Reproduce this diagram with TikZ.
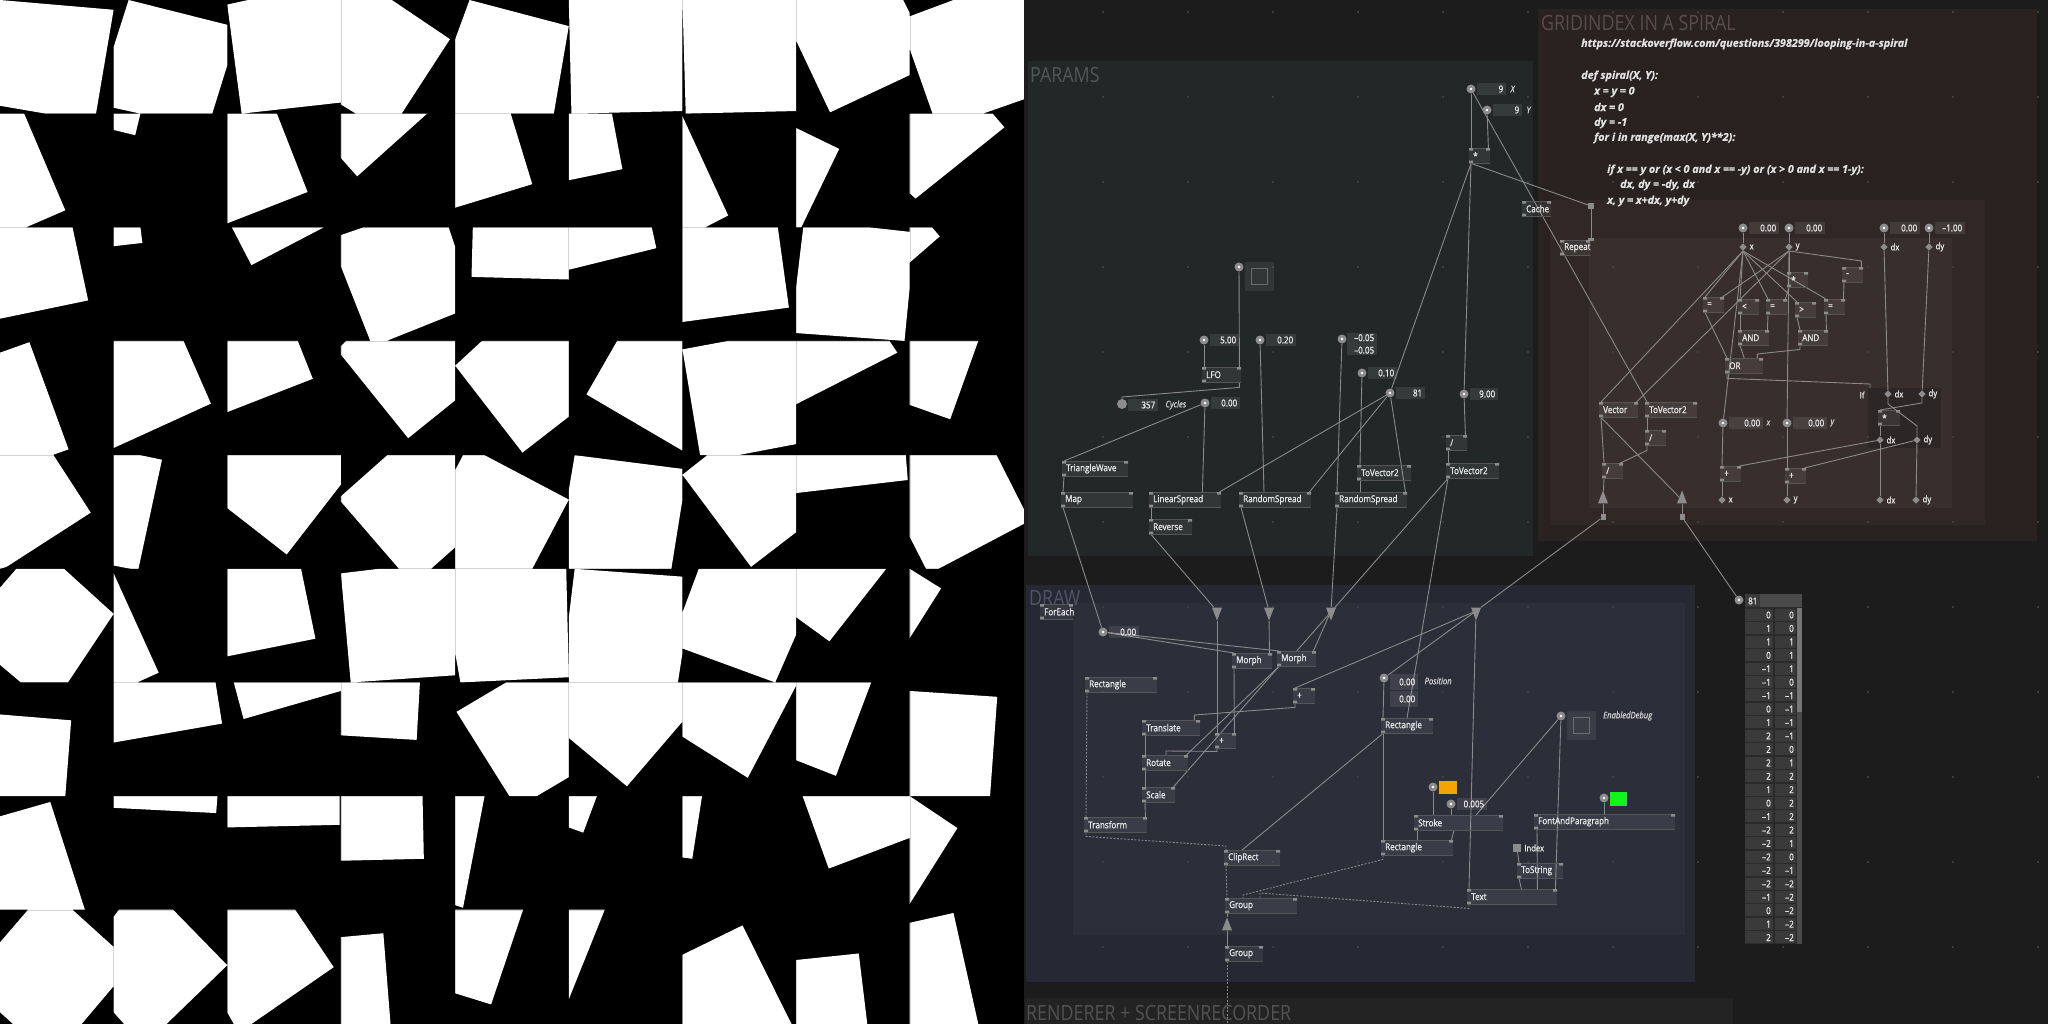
\documentclass[tikz,border=0pt]{standalone}
\usepackage{fontspec}
\setmainfont{Open Sans}
\newfontfamily\vfont[FakeStretch=0.85, FakeBold=1.2]{Open Sans}
\newfontfamily\tfont[FakeStretch=0.85]{Open Sans}
\newfontfamily\cfont[FakeBold=0.6]{Open Sans}
\usetikzlibrary{positioning,shapes.geometric}

\definecolor{bgdark}{HTML}{1C1C1C}
\definecolor{paramsbg}{HTML}{222827}
\definecolor{gridbg}{HTML}{2A2121}
\definecolor{gridinA}{HTML}{312727}
\definecolor{gridinB}{HTML}{382E2E}
\definecolor{ifbg}{HTML}{2D2626}
\definecolor{drawbg}{HTML}{262833}
\definecolor{drawin}{HTML}{2C2E3A}
\definecolor{renderbg}{HTML}{232323}
\definecolor{wiregray}{HTML}{8A8A8A}
\definecolor{pingray}{HTML}{8C8C8C}
\definecolor{pinbar}{HTML}{565656}
\definecolor{textlight}{HTML}{E6E6E6}
\definecolor{textsoft}{HTML}{CFCFCF}
\definecolor{codewhite}{HTML}{E2E2E2}
\definecolor{dotgray}{HTML}{3E3E3E}
\definecolor{togglegray}{HTML}{6E6E6E}
\definecolor{ptitle}{HTML}{4F5856}
\definecolor{gtitle}{HTML}{5A4C4C}
\definecolor{dtitle}{HTML}{505463}
\definecolor{rtitle}{HTML}{525252}
\definecolor{tblcell}{HTML}{3A3A3A}
\definecolor{tblhead}{HTML}{4A4A4A}
\definecolor{tblback}{HTML}{2A2A2A}
\definecolor{thumbgray}{HTML}{777777}
\definecolor{orangesw}{HTML}{F5A300}
\definecolor{greensw}{HTML}{11F51F}
\definecolor{seamgray}{HTML}{D4D4D4}

\pgfdeclarelayer{back}
\pgfdeclarelayer{links}
\pgfsetlayers{back,links,main}

\tikzset{
  wire/.style={draw=wiregray, line width=0.9pt},
  layerwire/.style={wire, dash pattern=on 2pt off 1.5pt},
  vnode/.style={rectangle, anchor=north west, fill=white, fill opacity=0.07,
    text opacity=1, inner xsep=4pt, inner ysep=0pt, minimum height=15pt,
    align=left, text=textlight, font=\vfont\fontsize{9.5}{11}\selectfont,
    path picture={
      \draw[pinbar, line width=1.2pt, opacity=1]
        (path picture bounding box.north west) -- (path picture bounding box.north east)
        (path picture bounding box.south west) -- (path picture bounding box.south east);
      \fill[pingray, opacity=1]
        (path picture bounding box.north west) rectangle ++(4pt,-2.5pt)
        (path picture bounding box.north east) rectangle ++(-4pt,-2.5pt)
        (path picture bounding box.south west) rectangle ++(4pt,2.5pt);}},
  iobox/.style={rectangle, anchor=west, fill=white, fill opacity=0.09,
    text opacity=1, inner xsep=3pt, inner ysep=0pt, minimum height=12.5pt,
    align=right, text=textlight, font=\vfont\fontsize{9.5}{12.5}\selectfont},
  iopin/.style={circle, fill=pingray, minimum size=9pt, inner sep=0pt,
    path picture={\fill[white] (path picture bounding box.center) circle (1.4pt);}},
  loopin/.style={diamond, fill=pingray, minimum size=7.5pt, inner sep=0pt},
  plabel/.style={inner sep=1pt, text=textlight, font=\vfont\fontsize{9}{10}\selectfont},
  ilabel/.style={inner sep=1pt, text=textsoft, font=\vfont\itshape\fontsize{9}{10}\selectfont},
  spreadin/.style={isosceles triangle, isosceles triangle stretches,
    shape border rotate=-90, minimum width=10pt, minimum height=13pt,
    inner sep=0pt, fill=pingray},
  spreadout/.style={spreadin, shape border rotate=90},
  pinsq/.style={rectangle, fill=pingray, minimum width=5pt, minimum height=6pt, inner sep=0pt},
  togglebox/.style={rectangle, anchor=north west, fill=white, fill opacity=0.07,
    minimum size=29pt, inner sep=0pt,
    path picture={\draw[togglegray, line width=1.3pt, opacity=1]
      ([shift={(-8pt,-8pt)}]path picture bounding box.center) rectangle
      ([shift={(8pt,8pt)}]path picture bounding box.center);}},
  swatch/.style={rectangle, anchor=north west, minimum width=18pt, minimum height=13pt, inner sep=0pt},
  regiontitle/.style={anchor=west, inner sep=0pt, font=\tfont\fontsize{21}{23}\selectfont},
  codeline/.style={anchor=west, inner sep=0pt, text=codewhite,
    font=\cfont\bfseries\itshape\fontsize{10.8}{12}\selectfont},
  tbltext/.style={inner sep=0pt, text=textlight, font=\vfont\fontsize{9.5}{10}\selectfont},
}

\begin{document}
\begin{tikzpicture}[x=1pt, y=-1pt]
\useasboundingbox (0,0) rectangle (2048,1024);

\begin{pgfonlayer}{back}
  % rendered output: 9x9 clipped quads
  \fill[black] (0,0) rectangle (1024,1024);
  \begin{scope}[x=0.653061pt, y=-0.653061pt]
    \fill[white]
      (0,0)--(174,15)--(147,174)--(70,174)--(0,162)--cycle
      (197,0)--(348,38)--(348,100)--(325,174)--(215,174)--(174,165)--(174,72)--cycle
      (348,7)--(380,0)--(522,0)--(522,157)--(370,174)--cycle
      (522,0)--(600,0)--(689,60)--(615,174)--(545,174)--(522,160)--cycle
      (719,0)--(871,40)--(848,174)--(697,174)--(697,60)--cycle
      (871,0)--(1045,0)--(1045,170)--(875,174)--cycle
      (1045,0)--(1219,0)--(1219,170)--(1050,174)--cycle
      (1219,0)--(1383,0)--(1393,20)--(1393,115)--(1271,172)--(1219,62)--cycle
      (1393,25)--(1460,0)--(1568,0)--(1568,152)--(1505,174)--(1428,174)--(1393,75)--cycle
      % row 2
      (0,174)--(37,174)--(100,322)--(40,348)--(0,348)--cycle
      (174,174)--(215,174)--(207,207)--(174,199)--cycle
      (348,174)--(424,174)--(471,294)--(348,342)--cycle
      (522,174)--(654,174)--(547,270)--(522,242)--cycle
      (697,174)--(782,174)--(815,282)--(697,318)--cycle
      (871,174)--(937,174)--(953,259)--(871,276)--cycle
      (1045,178)--(1115,330)--(1080,348)--(1045,348)--cycle
      (1219,196)--(1285,228)--(1227,348)--(1219,348)--cycle
      (1393,174)--(1520,174)--(1538,195)--(1402,304)--(1393,296)--cycle
      % row 3
      (0,348)--(111,348)--(135,460)--(0,488)--cycle
      (174,348)--(215,348)--(218,372)--(174,377)--cycle
      (355,348)--(496,348)--(385,406)--cycle
      (522,360)--(557,348)--(687,348)--(697,378)--(697,480)--(592,522)--(567,522)--(522,408)--cycle
      (724,348)--(871,348)--(871,428)--(722,424)--cycle
      (871,348)--(998,348)--(1005,380)--(871,413)--cycle
      (1045,348)--(1191,348)--(1208,471)--(1045,493)--cycle
      (1230,348)--(1330,348)--(1393,355)--(1393,440)--(1385,522)--(1219,510)--(1219,440)--cycle
      (1393,348)--(1427,348)--(1439,362)--(1393,402)--cycle
      % row 4
      (0,540)--(45,524)--(105,688)--(80,697)--(0,697)--cycle
      (174,522)--(281,522)--(323,618)--(174,686)--cycle
      (348,522)--(456,522)--(479,580)--(348,631)--cycle
      (530,522)--(697,522)--(697,613)--(625,671)--(522,543)--(522,530)--cycle
      (738,522)--(871,522)--(871,638)--(800,693)--(697,560)--cycle
      (945,522)--(1045,522)--(1045,690)--(898,604)--cycle
      (1045,535)--(1115,522)--(1219,522)--(1219,680)--(1130,697)--(1072,697)--cycle
      (1219,522)--(1362,522)--(1374,540)--(1219,619)--cycle
      (1393,522)--(1498,522)--(1455,642)--(1393,620)--cycle
      % row 5
      (0,697)--(82,697)--(139,785)--(10,868)--(0,871)--cycle
      (174,697)--(215,697)--(248,704)--(212,871)--(200,871)--(174,866)--cycle
      (348,697)--(522,697)--(522,742)--(439,849)--(348,778)--cycle
      (522,760)--(593,697)--(697,697)--(697,838)--(660,871)--(611,871)--(522,768)--cycle
      (709,697)--(742,697)--(871,765)--(815,871)--(697,871)--(697,720)--cycle
      (880,697)--(1045,718)--(1045,765)--(1028,871)--(871,871)--(871,750)--cycle
      (1045,727)--(1083,697)--(1219,697)--(1219,815)--(1150,868)--cycle
      (1219,697)--(1387,697)--(1390,735)--(1219,755)--cycle
      (1393,697)--(1526,697)--(1568,780)--(1568,802)--(1437,871)--(1418,871)--(1393,822)--cycle
      % row 6
      (25,871)--(98,871)--(174,940)--(104,1045)--(32,1045)--(0,1018)--(0,900)--cycle
      (174,878)--(243,1030)--(210,1045)--(174,1045)--cycle
      (348,871)--(461,871)--(483,978)--(348,1005)--cycle
      (522,878)--(580,871)--(697,871)--(697,1034)--(537,1045)--cycle
      (697,871)--(867,871)--(871,1037)--(705,1045)--(697,1000)--cycle
      (880,871)--(1045,883)--(1045,1000)--(1038,1045)--(871,1045)--(871,945)--cycle
      (1070,871)--(1219,871)--(1219,972)--(1187,1045)--(1045,993)--(1045,938)--cycle
      (1219,871)--(1357,871)--(1270,982)--(1219,945)--cycle
      (1393,871)--(1441,901)--(1393,977)--cycle
      % row 7
      (0,1094)--(109,1103)--(100,1219)--(0,1219)--cycle
      (174,1045)--(330,1045)--(340,1108)--(174,1137)--cycle
      (358,1045)--(522,1045)--(522,1058)--(373,1101)--cycle
      (522,1045)--(643,1045)--(638,1133)--(522,1126)--cycle
      (775,1045)--(871,1045)--(871,1190)--(822,1219)--(780,1219)--(699,1090)--cycle
      (871,1045)--(1045,1045)--(1045,1105)--(960,1204)--(871,1130)--cycle
      (1045,1045)--(1219,1045)--(1219,1050)--(1145,1191)--(1045,1128)--cycle
      (1219,1045)--(1334,1045)--(1280,1188)--(1219,1164)--cycle
      (1393,1058)--(1527,1067)--(1516,1219)--(1393,1219)--cycle
      % row 8
      (0,1250)--(77,1228)--(130,1393)--(0,1393)--cycle
      (174,1219)--(333,1219)--(331,1245)--(174,1237)--cycle
      (348,1219)--(520,1219)--(520,1263)--(348,1267)--cycle
      (522,1219)--(647,1219)--(649,1315)--(522,1318)--cycle
      (697,1219)--(742,1219)--(709,1390)--(697,1386)--cycle
      (871,1219)--(914,1219)--(893,1275)--(871,1267)--cycle
      (1045,1219)--(1075,1219)--(1060,1315)--(1045,1313)--cycle
      (1229,1219)--(1393,1219)--(1393,1283)--(1269,1330)--cycle
      (1393,1219)--(1466,1268)--(1393,1384)--cycle
      % row 9
      (43,1393)--(111,1393)--(174,1450)--(174,1510)--(125,1568)--(20,1568)--(0,1550)--(0,1443)--cycle
      (182,1393)--(265,1393)--(348,1478)--(255,1568)--(190,1568)--(174,1550)--(174,1404)--cycle
      (348,1393)--(452,1393)--(511,1481)--(385,1568)--(358,1568)--(348,1550)--cycle
      (522,1435)--(587,1429)--(598,1568)--(522,1568)--cycle
      (697,1393)--(801,1393)--(752,1538)--(697,1521)--cycle
      (871,1393)--(926,1393)--(871,1530)--cycle
      (1045,1462)--(1137,1417)--(1212,1568)--(1045,1568)--cycle
      (1219,1470)--(1315,1460)--(1328,1568)--(1219,1568)--cycle
      (1393,1413)--(1460,1398)--(1498,1568)--(1393,1568)--cycle;
    % faint cell seams, visible only on white
    \begin{scope}[blend mode=multiply]
      \foreach \k in {1,...,8} {
        \draw[seamgray, line width=0.9pt] (174.2*\k,0) -- (174.2*\k,1568);
        \draw[seamgray, line width=0.9pt] (0,174.2*\k) -- (1568,174.2*\k);
      }
    \end{scope}
  \end{scope}

  % patch regions
  \fill[bgdark] (1024,0) rectangle (2048,1024);
  \fill[paramsbg] (1028,61) rectangle (1533,556);
  \fill[gridbg] (1538,9) rectangle (2037,541);
  \fill[gridinA] (1550,200) rectangle (1985,525);
  \fill[gridinB] (1589,238) rectangle (1952,508);
  \fill[ifbg] (1868,388) rectangle (1941,448);
  \fill[drawbg] (1026,585) rectangle (1695,982);
  \fill[drawin] (1073,603) rectangle (1685,935);
  \fill[renderbg] (1025,998) rectangle (1733,1024);
  \foreach \gx in {1103,1188,...,2038}
    \foreach \gy in {12,97,...,1012}
      \fill[dotgray] (\gx-1,\gy-1) rectangle ++(2,2);
\end{pgfonlayer}

% region titles
\node[regiontitle, text=ptitle] (params-title) at (1030,75) {PARAMS};
\node[regiontitle, text=gtitle] (grid-title) at (1541,23) {GRIDINDEX IN A SPIRAL};
\node[regiontitle, text=dtitle] (draw-title) at (1029,598) {DRAW};
\node[regiontitle, text=rtitle] (render-title) at (1026,1013) {RENDERER + SCREENRECORDER};

% spiral notes
\node[codeline] (code-url) at (1581,44) {https://stackoverflow.com/questions/398299/looping-in-a-spiral};
\foreach \x/\y/\t [count=\i] in {1581/76/{def spiral(X, Y):}, 1594/92/{x = y = 0},
    1594/107/{dx = 0}, 1594/123/{dy = -1}, 1594/138/{for i in range(max(X, Y)**2):},
    1607/170/{if x == y or (x < 0 and x == -y) or (x > 0 and x == 1-y):},
    1620/185/{dx, dy = -dy, dx}, 1607/201/{x, y = x+dx, y+dy}}
  \node[codeline] (code-\i) at (\x,\y) {\t};

% process nodes
\foreach \n/\x/\y/\w/\t in {
    mulxy/1469/148/21/*, lfo/1202/367/39/LFO, triwave/1062/461/66/TriangleWave,
    mapnode/1061/492/72/Map, linspread/1149/492/72/LinearSpread,
    reverse/1149/519/43/Reverse, rspreadA/1239/492/72/RandomSpread,
    rspreadB/1335/492/72/RandomSpread, tovecA/1357/465/54/ToVector2,
    divA/1446/435/21/\slash, tovecB/1446/463/53/ToVector2,
    cache/1522/201/29/Cache, repeat/1560/240/30/Repeat,
    eqA/1703/297/21/=, ltA/1738/299/21/<, eqB/1766/299/21/=, mulG/1787/272/21/*,
    gtA/1795/302/21/>, eqC/1824/299/21/=, subA/1842/267/21/-,
    andA/1738/330/31/AND, andB/1798/330/30/AND, orA/1725/358/38/OR,
    mulIf/1878/410/22/*, vector/1599/402/39/Vector, tovecG/1645/402/52/ToVector2,
    divG/1645/430/21/\slash, divH/1602/463/21/\slash,
    addX/1720/466/21/+, addY/1785/468/21/+,
    foreachnode/1040/604/33/ForEach, morphA/1232/653/40/Morph, morphB/1277/651/39/Morph,
    rectA/1085/677/72/Rectangle, addA/1293/688/22/+, rectB/1381/718/52/Rectangle,
    translate/1142/720/58/Translate, addB/1215/733/21/+,
    rotatenode/1142/755/46/Rotate, scalenode/1142/787/33/Scale,
    transform/1084/817/63/Transform, stroke/1414/815/89/Stroke,
    rectC/1381/840/72/Rectangle, cliprect/1224/850/56/ClipRect,
    textnode/1467/889/90/Text, groupA/1225/898/72/Group, groupB/1225/946/38/Group,
    fontpar/1534/814/141/FontAndParagraph, tostring/1517/863/46/ToString}{
  \pgfmathsetmacro\tw{\w-8}
  \node[vnode, text width=\tw pt] (\n) at (\x,\y) {\t};
}

% io boxes
\foreach \n/\x/\y/\w/\v in {
    ioX/1471/89/29/9, ioY/1487/110/29/9, io500/1204/340/29/5.00, io020/1260/340/30/0.20,
    io010/1362/373/29/0.10, io81/1390/393/29/81, io900/1464/394/28/9.00,
    io000a/1205/403/29/0.00, ioGx/1743/228/30/0.00, ioGy/1789/228/30/0.00,
    ioGdx/1884/228/30/0.00, ioGdy/1929/228/30/–1.00, ioOx/1723/423/34/0.00,
    ioOy/1787/423/34/0.00, ioF/1103/632/30/0.00, io0005/1451/804/30/0.005}{
  \pgfmathsetmacro\tw{\w-6}
  \node[iopin] (\n-pin) at (\x,\y) {};
  \node[iobox, text width=\tw pt] (\n) at (\x+6,\y) {\v};
}
\node[circle, fill=pingray, minimum size=10pt, inner sep=0pt] (io357-pin) at (1122,404) {};
\node[iobox, text width=24pt] (io357) at (1128,405) {357};
\node[iopin] (io005-pin) at (1342,339) {};
\node[iobox, anchor=north west, text width=24pt, inner ysep=1pt] (io005) at (1347,333) {–0.05\\–0.05};
\node[iopin] (ioPos-pin) at (1384,678) {};
\node[iobox, anchor=north west, text width=22pt, minimum height=15.5pt] (ioPos) at (1390,674) {0.00};
\node[iobox, anchor=north west, text width=22pt, minimum height=15.5pt] (ioPosB) at (1390,691) {0.00};
\node[iopin] (toggleA-pin) at (1239,267) {};
\node[togglebox] (toggleA) at (1245,262) {};
\node[iopin] (toggleB-pin) at (1561,716) {};
\node[togglebox] (toggleB) at (1567,711) {};
\node[iopin] (colorA-pin) at (1433,787) {};
\node[swatch, fill=orangesw] (colorA) at (1439,781) {};
\node[iopin] (colorB-pin) at (1604,798) {};
\node[swatch, fill=greensw, minimum width=17pt, minimum height=14pt] (colorB) at (1610,792) {};
\node[rectangle, fill=pingray, minimum size=8pt, inner sep=0pt] (index) at (1517,848) {};

% labels
\node[ilabel, right=3pt of ioX] (ioX-l) {X};
\node[ilabel, right=3pt of ioY] (ioY-l) {Y};
\node[ilabel, right=6pt of io357] (io357-l) {Cycles};
\node[ilabel, right=2pt of ioOx] (ioOx-l) {x};
\node[ilabel, right=2pt of ioOy] (ioOy-l) {y};
\node[ilabel, right=5pt of ioPos, yshift=1pt] (ioPos-l) {Position};
\node[ilabel, anchor=west] (toggleB-l) at (1602,716) {EnabledDebug};
\node[plabel, right=2pt of index] (index-l) {Index};
\node[plabel] (if-l) at (1862,395) {If};

% loop pins
\foreach \n/\x/\y/\t in {dX/1743/247/x, dY/1789/247/y, dDX/1884/247/dx, dDY/1929/247/dy,
    iDX/1888/394/dx, iDY/1922/394/dy, jDX/1880/440/dx, jDY/1917/440/dy,
    oX/1722/500/x, oY/1787/500/y, oDX/1880/500/dx, oDY/1916/500/dy}{
  \node[loopin] (\n) at (\x,\y) {};
  \node[plabel, right=1.5pt of \n] (\n-l) {\t};
}
\coordinate (ifpin) at (1870,388);
\node[pinsq, minimum width=6pt] (rptA) at (1591,206) {};
\node[pinsq, minimum width=6pt, minimum height=3pt] (rptB) at (1591,240) {};

% spread pins
\foreach \n/\x in {tA/1217, tB/1269, tC/1331, tD/1476}
  \node[spreadin] (\n) at (\x,611) {};
\node[spreadout] (trA) at (1603,500) {};
\node[spreadout] (trB) at (1682,500) {};
\node[spreadout] (tE) at (1227,927) {};
\node[pinsq] (sqA) at (1603,517) {};
\node[pinsq] (sqB) at (1682,517) {};

% spread table
\node[iopin] (tbl-pin) at (1739,600) {};
\begin{pgfonlayer}{back}
  \fill[tblback] (1745,594) rectangle (1802,944);
  \fill[tblcell] (1745,594) rectangle (1760,607);
  \fill[tblhead] (1760,594) rectangle (1802,607);
  \fill[tblhead] (1797,608) rectangle (1802,944);
  \fill[thumbgray] (1797,608) rectangle (1802,712);
\end{pgfonlayer}
\node[tbltext, anchor=west] (tbl-head) at (1748,601) {81};
\foreach \a/\b [count=\i from 0] in {0/0, 1/0, 1/1, 0/1, –1/1, –1/0, –1/–1, 0/–1, 1/–1,
    2/–1, 2/0, 2/1, 2/2, 1/2, 0/2, –1/2, –2/2, –2/1, –2/0, –2/–1, –2/–2, –1/–2,
    0/–2, 1/–2, 2/–2}{
  \pgfmathsetmacro\ry{608+13.44*\i}
  \begin{pgfonlayer}{back}
    \fill[tblcell] (1745,\ry+0.8) rectangle (1773,\ry+12.8);
    \fill[tblcell] (1774.5,\ry+0.8) rectangle (1796,\ry+12.8);
  \end{pgfonlayer}
  \node[tbltext, anchor=east] (tbl-a\i) at (1771,\ry+7) {\a};
  \node[tbltext, anchor=east] (tbl-b\i) at (1794,\ry+7) {\b};
}

\begin{pgfonlayer}{links}
  % params
  \draw[wire] (ioX-pin) -- ([xshift=2pt]mulxy.north west);
  \draw[wire] (ioY-pin) -- ([xshift=-2pt]mulxy.north east);
  \draw[wire] (ioX-pin) -- ([xshift=2pt]tovecG.north west);
  \draw[wire] ([xshift=2pt]mulxy.south west) -- (rptA);
  \draw[wire] (rptA) -- (rptB);
  \draw[wire] ([xshift=2pt]mulxy.south west) -- (io81-pin);
  \draw[wire] ([xshift=2pt]mulxy.south west) -- (io900-pin);
  \draw[wire] (toggleA-pin) -- ([xshift=-2pt]lfo.north east);
  \draw[wire] (io500-pin) -- ([xshift=2pt]lfo.north west);
  \draw[wire] ([xshift=-2pt]lfo.south east) -- ++(0,5) -- ([yshift=7pt]io357-pin.center) -- (io357-pin);
  \draw[wire] (io000a-pin) -- ([xshift=2pt]triwave.north west);
  \draw[wire] (io000a-pin) -- ([xshift=-19pt]linspread.north east);
  \draw[wire] (io81-pin) -- ([xshift=-2pt]linspread.north east);
  \draw[wire] (io81-pin) -- ([xshift=-2pt]rspreadA.north east);
  \draw[wire] (io81-pin) -- ([xshift=-2pt]rspreadB.north east);
  \draw[wire] (io020-pin) -- ([xshift=25pt]rspreadA.north west);
  \draw[wire] (io005-pin) -- ([xshift=2pt]rspreadB.north west);
  \draw[wire] (io010-pin) -- ([xshift=3pt]tovecA.north west);
  \draw[wire] ([xshift=3pt]tovecA.south west) -- ([xshift=25pt]rspreadB.north west);
  \draw[wire] ([xshift=2pt]triwave.south west) -- ([xshift=2pt]mapnode.north west);
  \draw[wire] ([xshift=2pt]linspread.south west) -- ([xshift=2pt]reverse.north west);
  \draw[wire] (io900-pin) -- ([xshift=-2pt]divA.north east);
  \draw[wire] ([xshift=2pt]divA.south west) -- ([xshift=2pt]tovecB.north west);
  \draw[wire] ([xshift=2pt]tovecB.south west) -- (morphB.north);
  \draw[wire] ([xshift=2pt]tovecB.south west) -- ([xshift=26pt]rectB.north west);
  \draw[wire] ([xshift=2pt]mapnode.south west) -- (ioF-pin);
  \draw[wire] ([xshift=2pt]reverse.south west) -- (tA);
  \draw[wire] ([xshift=2pt]rspreadA.south west) -- (tB);
  \draw[wire] ([xshift=2pt]rspreadB.south west) -- (tC);
  % spiral
  \draw[wire] (ioGx-pin) -- (dX);
  \draw[wire] (ioGy-pin) -- (dY);
  \draw[wire] (ioGdx-pin) -- (dDX);
  \draw[wire] (ioGdy-pin) -- (dDY);
  \foreach \t in {eqA, ltA, eqB, gtA, eqC}
    \draw[wire] (dX.south) -- ([xshift=2pt]\t.north west);
  \draw[wire] (dX.south) -- ([xshift=2pt]vector.north west);
  \draw[wire] (dX.south) -- (ioOx-pin);
  \draw[wire] (dY.south) -- ([xshift=-2pt]eqA.north east);
  \draw[wire] (dY.south) -- ([xshift=-2pt]vector.north east);
  \draw[wire] (dY.south) -- ([xshift=2pt]mulG.north west);
  \draw[wire] (dY.south) -- ([xshift=-2pt,yshift=6pt]subA.north east) -- ([xshift=-2pt]subA.north east);
  \draw[wire] (dY.south) -- (ioOy-pin);
  \draw[wire] ([xshift=2pt]mulG.south west) -- ([xshift=-2pt]eqB.north east);
  \draw[wire] ([xshift=2pt]subA.south west) -- ([xshift=-2pt]eqC.north east);
  \draw[wire] ([xshift=2pt]ltA.south west) -- ([xshift=2pt]andA.north west);
  \draw[wire] ([xshift=2pt]eqB.south west) -- ([xshift=-2pt]andA.north east);
  \draw[wire] ([xshift=2pt]gtA.south west) -- ([xshift=2pt]andB.north west);
  \draw[wire] ([xshift=2pt]eqC.south west) -- ([xshift=-2pt]andB.north east);
  \draw[wire] ([xshift=2pt]eqA.south west) -- ([xshift=2pt]orA.north west);
  \draw[wire] ([xshift=2pt]andA.south west) -- (orA.north);
  \draw[wire] ([xshift=2pt]andB.south west) -- ++(0,4) -- ([xshift=-6pt,yshift=4pt]orA.north east) -- ([xshift=-6pt]orA.north east);
  \draw[wire] ([xshift=2pt]orA.south west) -- ++(0,5) -- ([yshift=4pt]ifpin) -- (ifpin);
  \draw[wire] (dDX) -- (iDX);
  \draw[wire] (dDY) -- (iDY);
  \draw[wire] (iDX.south) -- ++(0,6) -- ([yshift=14pt]jDY.center) -- (jDY.north);
  \draw[wire] (iDY.south) -- ++(0,5) -- ([xshift=2pt]mulIf.north west);
  \draw[wire] ([xshift=2pt]mulIf.south west) -- (jDX.north);
  \draw[wire] (jDX) -- ([xshift=-2pt]addX.north east);
  \draw[wire] (jDY) -- ([xshift=-2pt]addY.north east);
  \draw[wire] (jDX) -- (oDX);
  \draw[wire] (jDY) -- (oDY);
  \draw[wire] (ioOx-pin) -- ([xshift=2pt]addX.north west);
  \draw[wire] (ioOy-pin) -- ([xshift=2pt]addY.north west);
  \draw[wire] ([xshift=2pt]addX.south west) -- (oX);
  \draw[wire] ([xshift=2pt]addY.south west) -- (oY);
  \draw[wire] ([xshift=2pt]vector.south west) -- ([xshift=2pt]divH.north west);
  \draw[wire] ([xshift=2pt]tovecG.south west) -- ([xshift=2pt]divG.north west);
  \draw[wire] ([xshift=2pt]divG.south west) -- ++(0,5) -- ([xshift=-3pt]divH.north east);
  \draw[wire] ([xshift=2pt]vector.south west) -- (trB);
  \draw[wire] ([xshift=2pt]divH.south west) -- (trA);
  \draw[wire] (trA) -- (sqA);
  \draw[wire] (trB) -- (sqB);
  \draw[wire] (sqA) -- (tD);
  \draw[wire] (sqB) -- (tbl-pin);
  % draw
  \draw[wire] (ioF-pin) -- ([xshift=2pt]morphA.north west);
  \draw[wire] (ioF-pin) -- ([xshift=2pt]morphB.north west);
  \draw[wire] (tA) -- ([xshift=2pt]addB.north west);
  \draw[wire] (tB) -- ([xshift=-3pt]morphA.north east);
  \draw[wire] (tC) -- ([xshift=-3pt]morphB.north east);
  \draw[wire] ([xshift=2pt]morphA.south west) -- ([xshift=-2pt]addB.north east);
  \draw[wire] ([xshift=2pt]morphB.south west) -- ([xshift=-2pt]rotatenode.north east);
  \draw[wire] ([xshift=2pt]morphB.south west) -- ([xshift=-2pt]scalenode.north east);
  \draw[wire] (tD) -- ([xshift=2pt]addA.north west);
  \draw[wire] (tD) -- (ioPos-pin);
  \draw[wire] (tD) -- ([xshift=2pt]textnode.north west);
  \draw[wire] ([xshift=2pt]addA.south west) -- ++(0,4) -- ([xshift=-6pt,yshift=5pt]translate.north east) -- ([xshift=-6pt]translate.north east);
  \draw[wire] ([xshift=2pt]addB.south west) -- ++(0,3) -- ([xshift=24pt,yshift=4pt]rotatenode.north west) -- ([xshift=24pt]rotatenode.north west);
  \draw[wire] ([xshift=3pt]translate.south west) -- ([xshift=3pt]rotatenode.north west);
  \draw[wire] ([xshift=3pt]rotatenode.south west) -- ([xshift=3pt]scalenode.north west);
  \draw[wire] ([xshift=3pt]scalenode.south west) -- ([xshift=-2pt]transform.north east);
  \draw[layerwire] ([xshift=2pt]rectA.south west) -- ([xshift=2pt]transform.north west);
  \draw[layerwire] ([xshift=2pt]transform.south west) -- ++(0,4) -- ([xshift=2pt,yshift=4pt]cliprect.north west) -- ([xshift=2pt]cliprect.north west);
  \draw[wire] (ioPos-pin) -- ([xshift=2pt]rectB.north west);
  \draw[wire] ([xshift=2pt]rectB.south west) -- ([xshift=18pt]cliprect.north west);
  \draw[wire] ([xshift=2pt]rectB.south west) -- ([xshift=2pt]rectC.north west);
  \draw[wire] ([xshift=3pt]stroke.south west) -- ([xshift=36pt]rectC.north west);
  \draw[wire] ([xshift=40pt]stroke.south west) -- ([xshift=-2pt]rectC.north east);
  \draw[wire] (colorA-pin) -- ([xshift=19pt]stroke.north west);
  \draw[wire] (io0005-pin) -- ([xshift=37pt]stroke.north west);
  \draw[wire] (toggleB-pin) -- ([xshift=62pt]stroke.north west);
  \draw[wire] (toggleB-pin) -- ([xshift=-2pt]textnode.north east);
  \draw[wire] (colorB-pin) -- ([xshift=70pt]fontpar.north west);
  \draw[wire] ([xshift=3pt]fontpar.south west) -- ([xshift=-20pt]textnode.north east);
  \draw[wire] (index) -- ([xshift=2pt]tostring.north west);
  \draw[wire] ([xshift=2pt]tostring.south west) -- ([xshift=-36pt]textnode.north east);
  \draw[layerwire] ([xshift=2pt]cliprect.south west) -- ([xshift=2pt]groupA.north west);
  \draw[layerwire] ([xshift=2pt]rectC.south west) -- ++(0,4) -- ([xshift=18pt,yshift=3pt]groupA.north west) -- ([xshift=18pt]groupA.north west);
  \draw[layerwire] ([xshift=2pt]textnode.south west) -- ++(0,4) -- ([xshift=35pt,yshift=5pt]groupA.north west) -- ([xshift=35pt]groupA.north west);
  \draw[wire] ([xshift=2pt]groupA.south west) -- (tE);
  \draw[wire] (tE) -- ([xshift=2pt]groupB.north west);
  \coordinate (renderer-in) at (1227,1024);
  \draw[layerwire] ([xshift=2pt]groupB.south west) -- (renderer-in);
\end{pgfonlayer}
\end{tikzpicture}
\end{document}
